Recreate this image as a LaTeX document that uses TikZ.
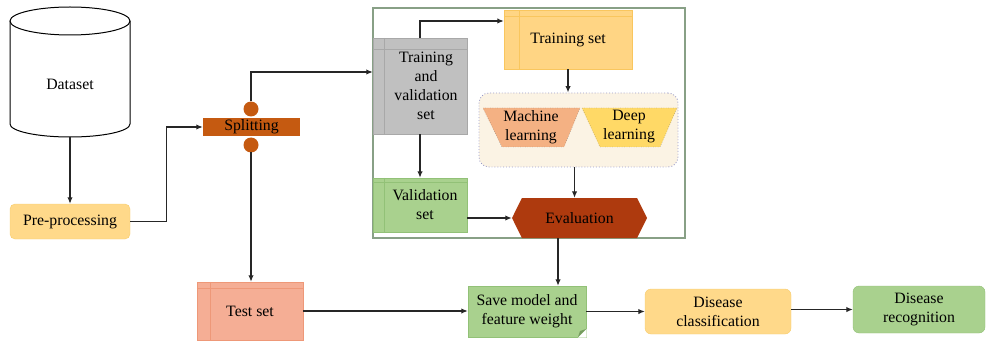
\documentclass[tikz,border=0pt]{standalone}
\usepackage{fontspec}
\setmainfont{Liberation Serif}
\usetikzlibrary{arrows.meta,shapes.symbols,calc}
\definecolor{preC}{HTML}{FFD98A}
\definecolor{preD}{HTML}{F7CC6C}
\definecolor{splitC}{HTML}{C55A11}
\definecolor{testC}{HTML}{F5AE95}
\definecolor{testD}{HTML}{EE9878}
\definecolor{greyC}{HTML}{C0C0C0}
\definecolor{greyD}{HTML}{A8A8A8}
\definecolor{trainC}{HTML}{FFD584}
\definecolor{trainD}{HTML}{F9C65E}
\definecolor{greenC}{HTML}{A9D18E}
\definecolor{greenD}{HTML}{92C177}
\definecolor{creamC}{HTML}{FBF3E4}
\definecolor{mlC}{HTML}{F4B183}
\definecolor{dlC}{HTML}{FFD966}
\definecolor{evalC}{HTML}{AE3A0E}
\definecolor{frameC}{HTML}{88A086}
\begin{document}
\begin{tikzpicture}[x=1pt,y=-1pt,font=\fontsize{15.8}{19}\selectfont,
  box/.style={inner sep=0pt,align=center,text=black},
  arr/.style={line width=1.3pt,draw=black!85,-{Latex[length=6.5pt,width=5.5pt]}},
  inl/.style={line width=0.8pt}]
\useasboundingbox (0,0) rectangle (988,342);
% big frame
\draw[frameC,line width=1.2pt] (373,8) rectangle (685,238);
% dataset cylinder
\draw[line width=1pt,fill=white] (10,21) -- (10,124) arc[start angle=180,end angle=360,x radius=60pt,y radius=13pt] -- (130,21);
\draw[line width=1pt,fill=white] (70,21) ellipse [x radius=60pt,y radius=14pt];
\node[box] (dataset) at (70,84) {Dataset};
\coordinate (dsbot) at (70,137);
% pre-processing
\node[box,fill=preC,draw=preD,rounded corners=5pt,minimum width=120pt,minimum height=35pt] (pre) at (70,221.5) {Pre-processing};
% splitting
\fill[splitC] (251,109) circle[radius=7.5pt];
\fill[splitC] (251,145) circle[radius=7.5pt];
\node[box,fill=splitC,minimum width=97pt,minimum height=18pt] (split) at (251.5,127) {Splitting};
\coordinate (c1) at (251,101.5);
\coordinate (c2) at (251,152.5);
% test set
\node[box,fill=testC,draw=testD,minimum width=106pt,minimum height=58pt] (test) at (250,311) {Test set};
\draw[testD,inl] ([xshift=14pt]test.north west) -- ([xshift=14pt]test.south west);
\draw[testD,inl] ([yshift=-7pt]test.north west) -- ([yshift=-7pt]test.north east);
% training and validation
\node[box,fill=greyC,draw=greyD,minimum width=94pt,minimum height=96pt] (tv) at (420,86) {\hspace*{12pt}Training\\\hspace*{12pt}and\\\hspace*{12pt}validation\\\hspace*{12pt}set};
\draw[greyD,inl] ([xshift=12pt]tv.north west) -- ([xshift=12pt]tv.south west);
\draw[greyD,inl] ([yshift=-12pt]tv.north west) -- ([yshift=-12pt]tv.north east);
% training set
\node[box,fill=trainC,draw=trainD,minimum width=128pt,minimum height=59pt] (train) at (568,39.5) {Training set};
\draw[trainD,inl] ([xshift=16pt]train.north west) -- ([xshift=16pt]train.south west);
\draw[trainD,inl] ([yshift=-7pt]train.north west) -- ([yshift=-7pt]train.north east);
% validation set
\node[box,fill=greenC,draw=greenD,minimum width=94pt,minimum height=54pt] (val) at (420,205) {\hspace*{10pt}Validation\\\hspace*{10pt}set};
\draw[greenD,inl] ([xshift=12pt]val.north west) -- ([xshift=12pt]val.south west);
\draw[greenD,inl] ([yshift=-5pt]val.north west) -- ([yshift=-5pt]val.north east);
% group
\node[fill=creamC,draw=gray!70!blue!60,dotted,line width=0.9pt,rounded corners=10pt,minimum width=199pt,minimum height=74pt,inner sep=0pt] (grp) at (578.5,130) {};
\draw[dotted,draw=gray!80!black,fill=mlC] (483,108) -- (580,108) -- (564,147) -- (502,147) -- cycle;
\node[box] (ml) at (531,127) {Machine\\learning};
\draw[dotted,draw=gray!80!black,fill=dlC] (582,108) -- (677,108) -- (660,147) -- (600,147) -- cycle;
\node[box] (dl) at (629,127) {Deep\\learning};
% evaluation
\node[box,shape=signal,signal to=west and east,signal pointer angle=127,fill=evalC,minimum width=135pt,minimum height=40pt] (eval) at (579.5,218) {Evaluation};
% save model
\node[box,fill=greenC,draw=greenD,minimum width=118pt,minimum height=51pt] (save) at (527,311.5) {Save model and\\feature weight};
\fill[white] (578,337.6) -- (586.6,337.6) -- (586.6,329) -- cycle;
\fill[greenD!80!black] (578,337) -- (586,329) -- (580,331) -- cycle;
% disease classification / recognition
\node[box,fill=preC,draw=preD,rounded corners=6pt,minimum width=146pt,minimum height=45pt] (cls) at (718,311.5) {Disease\\classification};
\node[box,fill=greenC,draw=greenD,rounded corners=6pt,minimum width=132pt,minimum height=47pt] (rec) at (919,309.5) {Disease\\recognition};
% connectors
\draw[arr] (dsbot) -- (pre.north);
\draw[arr] (pre.east) -- ++(36,0) |- (split.west);
\draw[arr] (c1) |- ([yshift=14pt]tv.west);
\draw[arr] (c2) -- (c2 |- test.north);
\draw[arr] (test.east) -- (test.east -| save.west);
\draw[arr] (tv.north) |- ([yshift=18.5pt]train.west);
\draw[arr] (train.south) -- (train.south |- grp.north);
\draw[arr] ([xshift=-4pt]grp.south) -- ([xshift=-4pt]grp.south |- eval.north);
\draw[arr] (tv.south) -- (val.north);
\draw[arr] (val.east |- eval.west) -- (eval.west);
\draw[arr] ([xshift=-21.5pt]eval.south) -- ([xshift=-21.5pt]eval.south |- save.north);
\draw[arr] (save.east) -- (save.east -| cls.west);
\draw[arr] (rec.west -| cls.east) -- (rec.west);
\end{tikzpicture}
\end{document}
